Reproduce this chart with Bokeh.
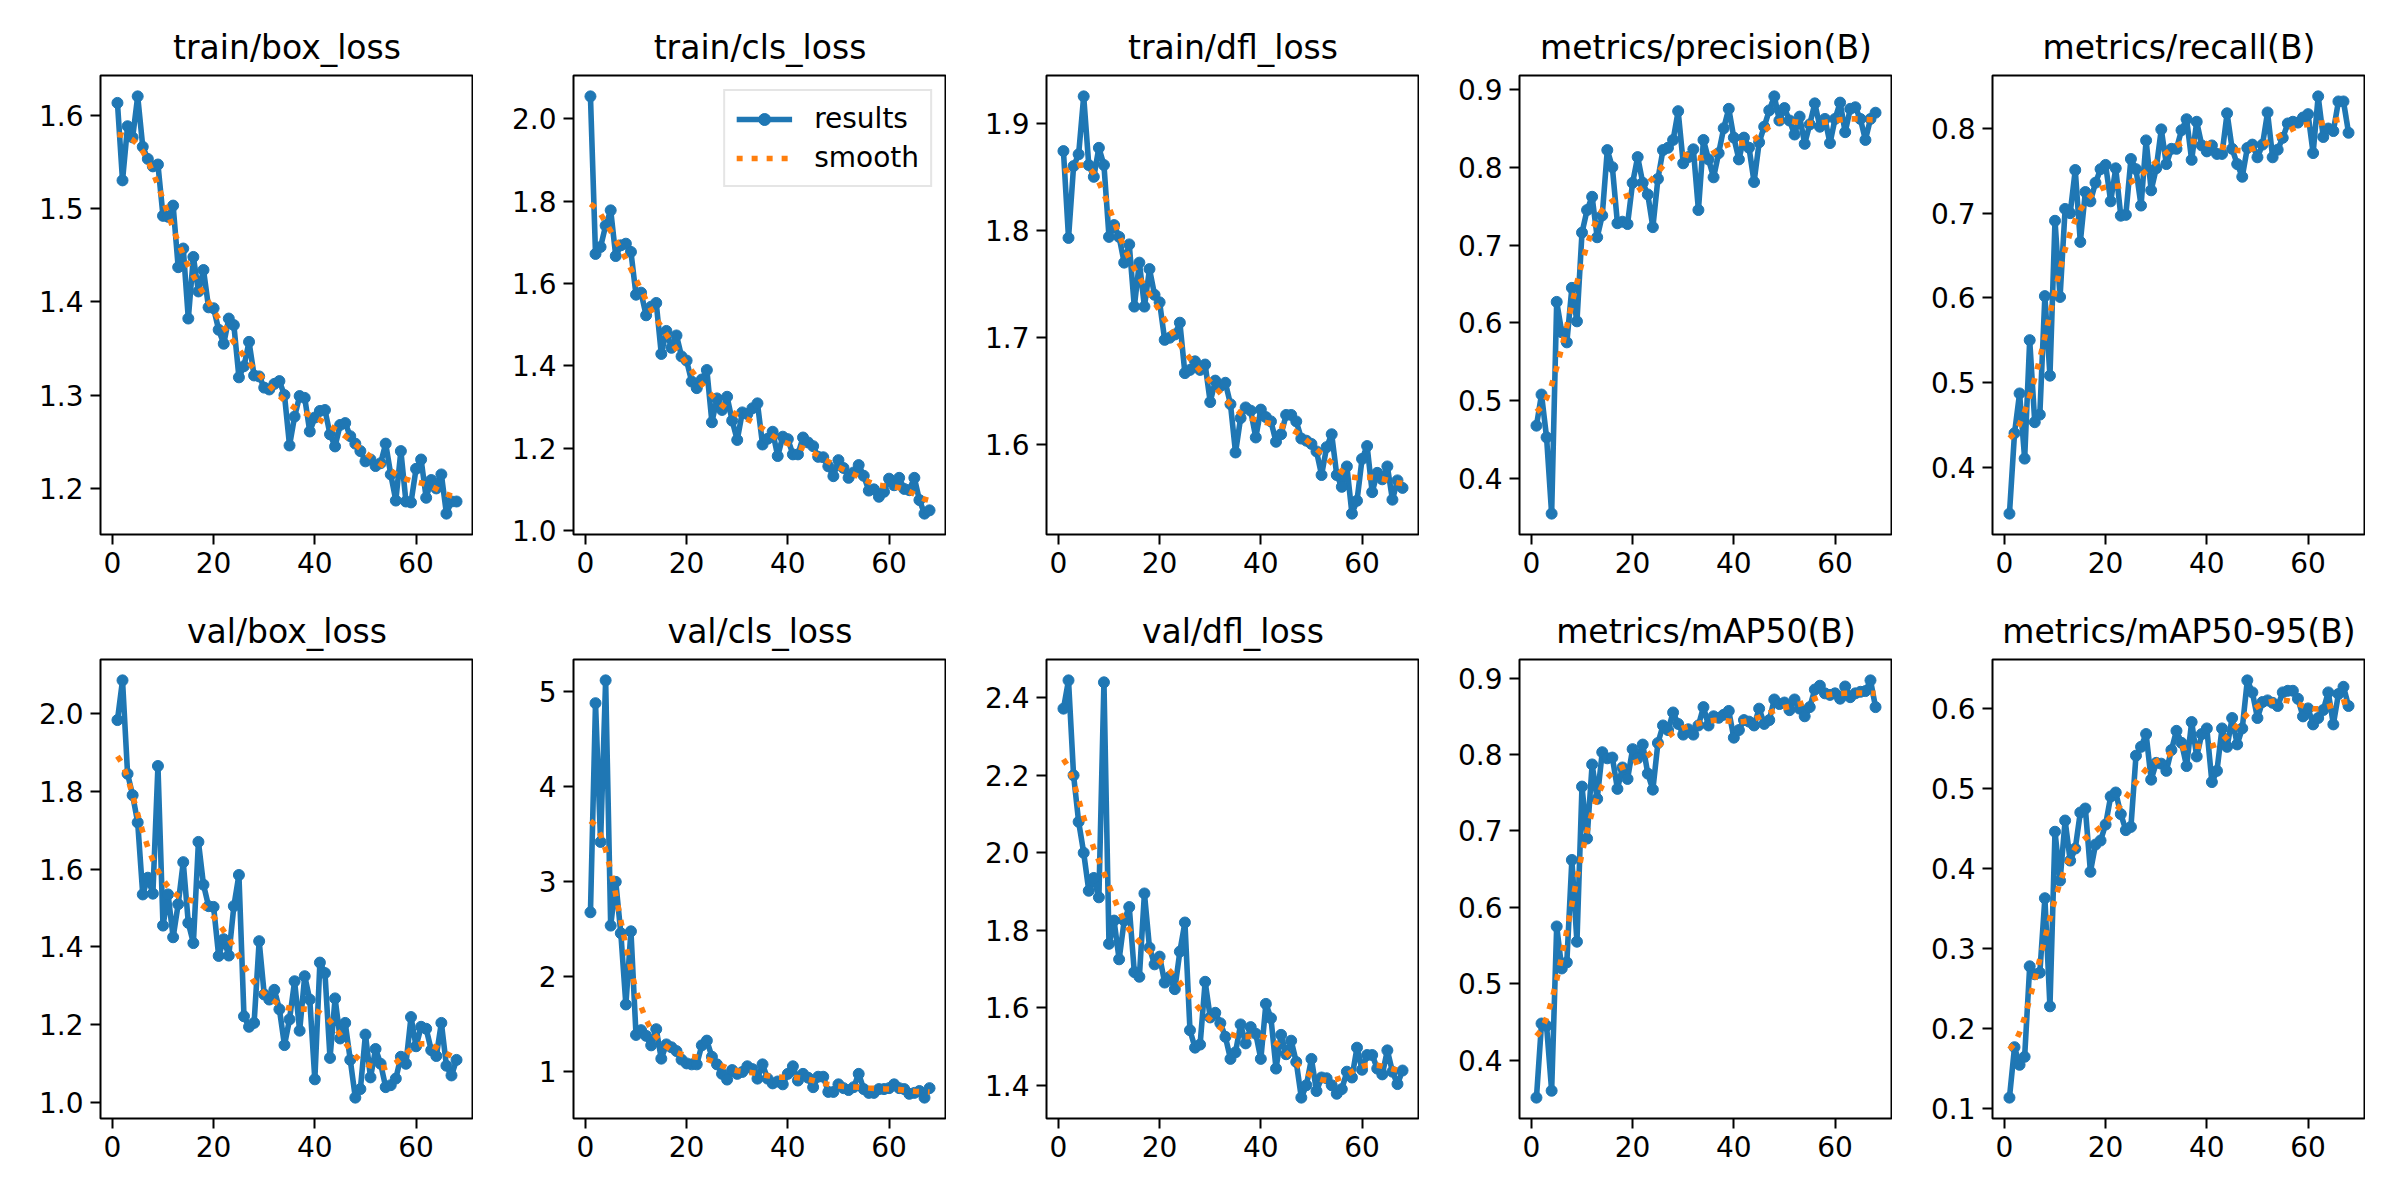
import numpy as np
from bokeh.plotting import figure
from bokeh.layouts import gridplot
from bokeh.models import FixedTicker, Range1d, ColumnDataSource
from bokeh.embed import file_html
from bokeh.resources import INLINE

epochs = list(range(1, 69))

titles = ["train/box_loss", "train/cls_loss", "train/dfl_loss", "metrics/precision(B)", "metrics/recall(B)",
          "val/box_loss", "val/cls_loss", "val/dfl_loss", "metrics/mAP50(B)", "metrics/mAP50-95(B)"]

train_box_loss = [1.613,1.530,1.588,1.576,1.620,1.566,1.553,1.545,1.547,1.492,
                  1.491,1.503,1.437,1.457,1.382,1.448,1.411,1.434,1.394,1.393,
                  1.370,1.355,1.382,1.375,1.319,1.331,1.357,1.321,1.320,1.308,
                  1.306,1.312,1.315,1.300,1.246,1.277,1.299,1.297,1.261,1.276,
                  1.283,1.284,1.258,1.245,1.268,1.270,1.256,1.248,1.240,1.229,
                  1.231,1.224,1.227,1.248,1.215,1.187,1.240,1.186,1.185,1.221,
                  1.231,1.190,1.209,1.200,1.215,1.173,1.186,1.186]
train_cls_loss = [2.055,1.672,1.689,1.741,1.778,1.667,1.693,1.697,1.677,1.573,
                  1.578,1.523,1.544,1.553,1.429,1.485,1.444,1.474,1.423,1.413,
                  1.362,1.346,1.367,1.390,1.263,1.321,1.293,1.325,1.267,1.220,
                  1.287,1.283,1.297,1.309,1.209,1.223,1.240,1.181,1.228,1.222,
                  1.185,1.185,1.226,1.214,1.205,1.179,1.178,1.156,1.132,1.171,
                  1.152,1.128,1.141,1.159,1.133,1.097,1.100,1.082,1.094,1.126,
                  1.110,1.128,1.101,1.098,1.128,1.074,1.041,1.049]
train_dfl_loss = [1.874,1.793,1.860,1.871,1.925,1.861,1.850,1.877,1.861,1.794,
                  1.805,1.794,1.770,1.787,1.729,1.770,1.729,1.764,1.740,1.733,
                  1.698,1.700,1.703,1.714,1.667,1.670,1.678,1.670,1.675,1.640,
                  1.660,1.655,1.658,1.638,1.593,1.625,1.635,1.632,1.607,1.633,
                  1.626,1.622,1.603,1.610,1.628,1.628,1.622,1.606,1.604,1.601,
                  1.594,1.572,1.598,1.610,1.572,1.561,1.580,1.536,1.548,1.587,
                  1.599,1.556,1.574,1.568,1.580,1.549,1.567,1.560]
precision = [0.468,0.508,0.453,0.355,0.627,0.588,0.575,0.645,0.602,0.716,
             0.745,0.762,0.710,0.738,0.822,0.800,0.728,0.730,0.727,0.780,
             0.813,0.780,0.765,0.723,0.785,0.822,0.825,0.835,0.872,0.805,
             0.813,0.823,0.745,0.835,0.810,0.787,0.818,0.850,0.875,0.838,
             0.810,0.838,0.825,0.781,0.832,0.852,0.873,0.891,0.860,0.876,
             0.860,0.842,0.865,0.830,0.855,0.882,0.852,0.862,0.831,0.862,
             0.883,0.845,0.875,0.877,0.862,0.835,0.862,0.870]
recall = [0.345,0.440,0.487,0.410,0.550,0.453,0.462,0.602,0.508,0.691,
          0.601,0.705,0.700,0.751,0.666,0.725,0.714,0.736,0.752,0.757,
          0.714,0.753,0.697,0.698,0.764,0.752,0.709,0.786,0.727,0.753,
          0.799,0.758,0.776,0.776,0.798,0.811,0.763,0.808,0.780,0.773,
          0.780,0.770,0.770,0.818,0.776,0.758,0.743,0.777,0.781,0.766,
          0.781,0.819,0.766,0.775,0.789,0.806,0.808,0.807,0.813,0.817,
          0.771,0.838,0.790,0.800,0.797,0.832,0.832,0.795]
val_box_loss = [1.983,2.085,1.845,1.790,1.720,1.535,1.578,1.537,1.865,1.455,
                1.535,1.425,1.510,1.618,1.462,1.410,1.670,1.560,1.505,1.503,
                1.377,1.420,1.378,1.505,1.585,1.222,1.195,1.205,1.415,1.278,
                1.265,1.290,1.240,1.148,1.214,1.312,1.185,1.325,1.265,1.060,
                1.360,1.333,1.115,1.268,1.165,1.205,1.110,1.013,1.035,1.175,
                1.065,1.138,1.100,1.040,1.045,1.062,1.118,1.100,1.220,1.145,
                1.195,1.190,1.135,1.120,1.205,1.095,1.070,1.110]
val_cls_loss = [2.68,4.88,3.42,5.12,2.54,3.00,2.46,1.71,2.48,1.39,
                1.44,1.38,1.28,1.45,1.14,1.29,1.26,1.22,1.13,1.09,
                1.08,1.08,1.28,1.33,1.16,1.08,0.98,0.92,1.02,0.98,
                1.00,1.06,1.03,0.93,1.08,0.93,0.88,0.90,0.87,0.98,
                1.06,0.91,0.98,0.94,0.84,0.95,0.95,0.79,0.79,0.87,
                0.83,0.81,0.84,0.98,0.82,0.78,0.78,0.82,0.82,0.83,
                0.87,0.83,0.82,0.77,0.78,0.80,0.73,0.83]
val_dfl_loss = [2.372,2.445,2.200,2.080,2.000,1.902,1.935,1.885,2.440,1.765,
                1.825,1.725,1.825,1.860,1.692,1.680,1.895,1.755,1.712,1.732,
                1.665,1.680,1.648,1.745,1.820,1.542,1.497,1.505,1.667,1.575,
                1.587,1.560,1.525,1.468,1.485,1.557,1.508,1.550,1.533,1.468,
                1.610,1.573,1.443,1.530,1.480,1.515,1.460,1.368,1.400,1.468,
                1.385,1.420,1.418,1.400,1.378,1.390,1.435,1.420,1.497,1.440,
                1.478,1.478,1.443,1.428,1.490,1.435,1.403,1.438]
map50 = [0.351,0.448,0.445,0.360,0.575,0.520,0.528,0.662,0.555,0.758,
         0.690,0.787,0.742,0.803,0.795,0.796,0.755,0.783,0.768,0.807,
         0.795,0.813,0.775,0.754,0.815,0.838,0.832,0.855,0.840,0.826,
         0.833,0.826,0.838,0.862,0.838,0.850,0.848,0.852,0.857,0.822,
         0.832,0.845,0.843,0.838,0.860,0.840,0.845,0.872,0.866,0.868,
         0.858,0.872,0.860,0.850,0.862,0.885,0.890,0.880,0.878,0.880,
         0.873,0.889,0.875,0.880,0.882,0.883,0.897,0.862]
map50_95 = [0.114,0.177,0.155,0.165,0.278,0.268,0.270,0.363,0.228,0.446,
            0.385,0.460,0.410,0.425,0.470,0.475,0.396,0.430,0.435,0.455,
            0.490,0.495,0.468,0.448,0.452,0.541,0.552,0.568,0.511,0.532,
            0.531,0.522,0.548,0.572,0.557,0.528,0.583,0.540,0.568,0.575,
            0.508,0.522,0.575,0.552,0.588,0.555,0.575,0.635,0.620,0.588,
            0.608,0.610,0.607,0.603,0.620,0.622,0.622,0.612,0.590,0.600,
            0.580,0.588,0.598,0.620,0.580,0.618,0.627,0.603]

series = [train_box_loss, train_cls_loss, train_dfl_loss, precision, recall,
          val_box_loss, val_cls_loss, val_dfl_loss, map50, map50_95]

x_ticks = [0, 20, 40, 60]
y_ticks = [
    ["1.2", "1.3", "1.4", "1.5", "1.6"],
    ["1.0", "1.2", "1.4", "1.6", "1.8", "2.0"],
    ["1.6", "1.7", "1.8", "1.9"],
    ["0.4", "0.5", "0.6", "0.7", "0.8", "0.9"],
    ["0.4", "0.5", "0.6", "0.7", "0.8"],
    ["1.0", "1.2", "1.4", "1.6", "1.8", "2.0"],
    ["1", "2", "3", "4", "5"],
    ["1.4", "1.6", "1.8", "2.0", "2.2", "2.4"],
    ["0.4", "0.5", "0.6", "0.7", "0.8", "0.9"],
    ["0.1", "0.2", "0.3", "0.4", "0.5", "0.6"],
]

BLUE = "#1f77b4"
ORANGE = "#ff7f0e"
FONT = "DejaVu Sans"


def gaussian_smooth(y, sigma=3.0):
    # same 1-D gaussian filter (reflect mode) that produced the "smooth" curve
    r = int(4 * sigma + 0.5)
    k = np.arange(-r, r + 1)
    w = np.exp(-0.5 * (k / sigma) ** 2)
    w /= w.sum()
    yp = np.pad(np.asarray(y, float), r, mode="symmetric")
    return np.convolve(yp, w[::-1], mode="valid")


figs = []
for i, (name, ys, ticks) in enumerate(zip(titles, series, y_ticks)):
    ymin, ymax = min(ys), max(ys)
    pad = 0.05 * (ymax - ymin)
    xpad = 0.05 * (epochs[-1] - epochs[0])
    p = figure(frame_width=373, frame_height=459,
               min_border_left=100, min_border_right=0,
               min_border_top=75, min_border_bottom=50,
               x_range=Range1d(epochs[0] - xpad, epochs[-1] + xpad),
               y_range=Range1d(ymin - pad, ymax + pad),
               output_backend="svg", toolbar_location=None, title=name)
    p.title.align = "center"
    p.title.text_font = FONT
    p.title.text_font_size = "33px"
    p.title.text_font_style = "normal"
    p.title.text_color = "black"
    p.title.standoff = 17
    p.grid.visible = False
    p.outline_line_color = "black"
    p.outline_line_width = 2
    p.background_fill_color = "white"
    p.border_fill_color = "white"
    for ax in (p.xaxis[0], p.yaxis[0]):
        ax.axis_line_color = None
        ax.major_tick_line_color = "black"
        ax.major_tick_line_width = 2
        ax.major_tick_out = 10
        ax.major_tick_in = 0
        ax.minor_tick_line_color = None
        ax.major_label_text_font = FONT
        ax.major_label_text_font_size = "28px"
        ax.major_label_text_color = "black"
        ax.major_label_standoff = 7
    p.xaxis[0].ticker = FixedTicker(ticks=x_ticks)
    tv = [float(t) for t in ticks]
    p.yaxis[0].ticker = FixedTicker(ticks=tv)
    p.yaxis[0].major_label_overrides = {v: t for v, t in zip(tv, ticks)}

    src = ColumnDataSource(dict(x=epochs, y=ys, s=gaussian_smooth(ys)))
    if i == 1:
        p.line("x", "y", source=src, color=BLUE, line_width=5.6, line_join="round", legend_label="results")
        p.scatter("x", "y", source=src, color=BLUE, size=11, legend_label="results")
        p.line("x", "s", source=src, color=ORANGE, line_width=5.6, line_dash="6 9", legend_label="smooth")
        lg = p.legend[0]
        lg.location = "top_right"
        lg.margin = 14
        lg.padding = 11
        lg.spacing = 6
        lg.glyph_width = 56
        lg.glyph_height = 30
        lg.label_standoff = 22
        lg.label_text_font = FONT
        lg.label_text_font_size = "28px"
        lg.label_text_color = "black"
        lg.border_line_color = "#cccccc"
        lg.border_line_width = 2
        lg.background_fill_alpha = 0.8
    else:
        p.line("x", "y", source=src, color=BLUE, line_width=5.6, line_join="round")
        p.scatter("x", "y", source=src, color=BLUE, size=11)
        p.line("x", "s", source=src, color=ORANGE, line_width=5.6, line_dash="6 9")
    figs.append(p)

grid = gridplot([figs[:5], figs[5:]], toolbar_location=None)
open("out.html", "w").write(file_html(grid, INLINE))
